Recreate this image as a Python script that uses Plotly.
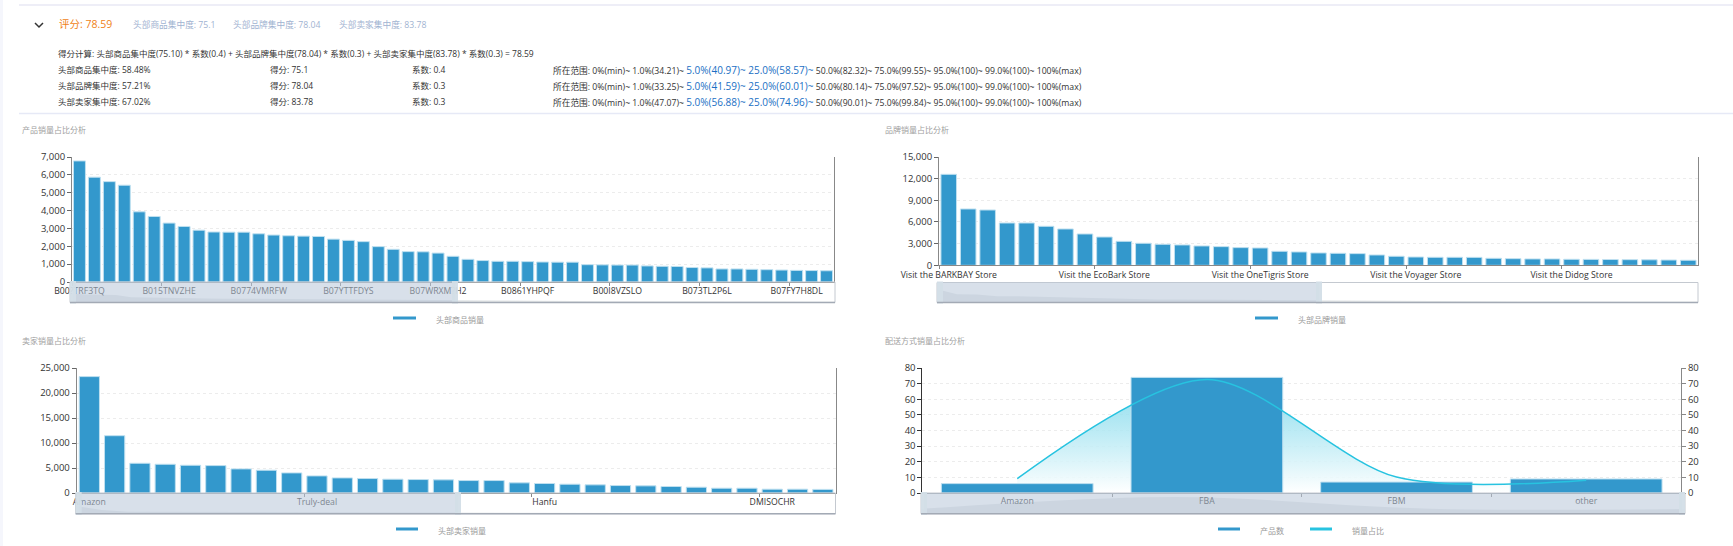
import plotly.graph_objects as go

W = 1733
H = 546
FONT = "Open Sans, Noto Sans CJK SC, sans-serif"

# header text
score_text = "评分: 78.59"
sub_scores = ["头部商品集中度: 75.1", "头部品牌集中度: 78.04", "头部卖家集中度: 83.78"]
formula_text = "得分计算: 头部商品集中度(75.10) * 系数(0.4) + 头部品牌集中度(78.04) * 系数(0.3) + 头部卖家集中度(83.78) * 系数(0.3) = 78.59"
row_names = ["头部商品集中度: 58.48%", "头部品牌集中度: 57.21%", "头部卖家集中度: 67.02%"]
row_scores = ["得分: 75.1", "得分: 78.04", "得分: 83.78"]
row_coefs = ["系数: 0.4", "系数: 0.3", "系数: 0.3"]
p1 = ["34.21", "33.25", "47.07"]
p5 = ["40.97", "41.59", "56.88"]
p25 = ["58.57", "60.01", "74.96"]
p50 = ["82.32", "80.14", "90.01"]
p75 = ["99.55", "97.52", "99.84"]

# product chart
product_labels = ["B00?TRF3TQ", "B015TNVZHE", "B0774VMRFW", "B07YTTFDYS", "B07WRXM?H2",
                  "B0861YHPQF", "B00I8VZSLO", "B073TL2P6L", "B07FY7H8DL"]
product_sales = [6780, 5870, 5620, 5420, 3930, 3670, 3300, 3110, 2900, 2800, 2790, 2790, 2700,
                 2630, 2590, 2570, 2550, 2400, 2330, 2260, 1980, 1830, 1700, 1690, 1620, 1440,
                 1270, 1200, 1160, 1160, 1140, 1120, 1110, 1110, 970, 960, 950, 950, 900, 880,
                 870, 810, 790, 730, 730, 710, 690, 670, 650, 640, 630]

# brand chart
brand_labels = ["Visit the BARKBAY Store", "Visit the EcoBark Store", "Visit the OneTigris Store",
                "Visit the Voyager Store", "Visit the Didog Store"]
brand_sales = [12600, 7800, 7660, 5860, 5860, 5400, 5030, 4340, 3920, 3320, 3050, 2910, 2820, 2680,
               2585, 2450, 2400, 1940, 1850, 1710, 1660, 1615, 1430, 1250, 1150, 1110, 1110, 1100,
               970, 920, 880, 880, 830, 820, 800, 780, 760, 730, 700]

# seller chart
seller_labels = ["Amazon", "Truly-deal", "Hanfu", "DMISOCHR"]
seller_sales = [23280, 11460, 5950, 5750, 5550, 5480, 4820, 4550, 4020, 3420, 3020, 2890, 2760,
                2690, 2630, 2490, 2490, 2030, 1900, 1760, 1630, 1490, 1430, 1300, 1160, 960, 960,
                760, 760, 720]

# delivery chart
delivery_types = ["Amazon", "FBA", "FBM", "other"]
delivery_products = [6, 74, 7, 9]
delivery_share = [9.2, 72.7, 10.2, 8.2]

BAR = "#3398cc"
BAR_EDGE = "#bfe0f0"
LINE = "#27c3e0"
GRID = "#ececec"


def fx(x):
    return x / W


def fy(y):
    return 1 - y / H


fig = go.Figure()
layout = {}
shapes = []
notes = []


def text(x, y, s, size=8.5, color="#333333", anchor="left"):
    # annotations carry about 2.5px of padding on the left
    notes.append(dict(x=fx(x - 2.5), y=fy(y), xref="paper", yref="paper", text=s, showarrow=False,
                      xanchor=anchor, yanchor="middle", align="left",
                      font=dict(family=FONT, size=size, color=color)))


def rect(x0, y0, x1, y1, fill, line=None):
    shapes.append(dict(type="rect", xref="paper", yref="paper", x0=fx(x0), x1=fx(x1), y0=fy(y0), y1=fy(y1),
                       fillcolor=fill, line=dict(width=1 if line else 0, color=line or fill), layer="above"))


def hline(x0, x1, y, color, width=1):
    shapes.append(dict(type="line", xref="paper", yref="paper", x0=fx(x0), x1=fx(x1), y0=fy(y), y1=fy(y),
                       line=dict(color=color, width=width), layer="above"))


def slider(num, left, right, sel_end, top, bottom, values, span, smooth=False):
    # fake data zoom: thumbnail area from the series, then the window over it
    x_name, y_name = f"xaxis{num}", f"yaxis{num}"
    layout[x_name] = dict(domain=[fx(left), fx(right)], range=[0, len(values) - 1], visible=False,
                          anchor=f"y{num}", fixedrange=True)
    layout[y_name] = dict(domain=[fy(bottom), fy(top)], range=[0, span], visible=False,
                          anchor=f"x{num}", fixedrange=True)
    fig.add_trace(go.Scatter(x=list(range(len(values))), y=values, xaxis=f"x{num}", yaxis=f"y{num}",
                             mode="lines", fill="tozeroy", fillcolor="rgba(47,69,84,0.13)",
                             line=dict(width=0, shape="spline" if smooth else "linear"),
                             showlegend=False, hoverinfo="skip"))
    rect(left, top, right, bottom, "rgba(0,0,0,0)", "#c4c9d0")
    rect(left + 3, top, sel_end - 3, bottom, "rgba(184,199,217,0.55)")
    rect(left, top - 1, left + 6, bottom + 1, "rgba(211,222,231,0.95)")
    rect(sel_end - 6, top - 1, sel_end, bottom + 1, "rgba(211,222,231,0.95)")
    hline(left, right, bottom, "#a3aab5", 1.5)


def bar_chart(num, title, title_x, left, right, top, bottom, title_y, values, labels, step, y_max, y_step):
    x_name, y_name = f"xaxis{num}", f"yaxis{num}"
    ids = list(range(len(values)))
    layout[x_name] = dict(domain=[fx(left), fx(right)], range=[-0.5, len(values) - 0.5], anchor=f"y{num}",
                          tickvals=ids[::step], ticktext=labels, ticks="", showgrid=False, showline=True,
                          linecolor="#888888", linewidth=1, ticklabelstandoff=1,
                          tickfont=dict(family=FONT, size=8.7, color="#333333"),
                          minor=dict(tickvals=[i - 0.5 for i in ids[::step]], ticks="outside", ticklen=3,
                                     tickcolor="#888888", showgrid=False))
    layout[y_name] = dict(domain=[fy(bottom), fy(top)], range=[0, y_max], anchor=f"x{num}", dtick=y_step,
                          tickformat=",", ticks="outside", ticklen=4, tickcolor="#666666",
                          showline=True, linecolor="#888888", linewidth=1, mirror=True,
                          gridcolor=GRID, griddash="dot", gridwidth=1, zeroline=False,
                          tickfont=dict(family=FONT, size=9.5, color="#333333"))
    fig.add_trace(go.Bar(x=ids, y=values, xaxis=f"x{num}", yaxis=f"y{num}", width=0.8, showlegend=False,
                         marker=dict(color=BAR, line=dict(color=BAR_EDGE, width=1))))
    text(title_x, title_y, title, size=8, color="#a0a0a0")


# page furniture
rect(0, 0, 3, H, "#f5f6fc")
hline(19, W, 5, "#e8e9f4", 1.5)
hline(19, W, 113.5, "#e6e9f6", 1.5)
shapes.append(dict(type="path", xref="paper", yref="paper", layer="above", line=dict(color="#333333", width=1.5),
                   path=f"M {fx(35)} {fy(23)} L {fx(39)} {fy(27)} L {fx(43)} {fy(23)}"))

text(59, 24, score_text, size=10.5, color="#f07f17")
for x, s in zip([133, 233, 339], sub_scores):
    text(x, 25, s, size=8.7, color="#9fb3d1")
text(58, 53.5, formula_text)

for i, y in enumerate([69.5, 85.5, 101.5]):
    text(58, y, row_names[i])
    text(270, y, row_scores[i])
    text(412, y, row_coefs[i])
    text(553, y, f"所在范围: 0%(min)~ 1.0%({p1[i]})~ "
                 f"<span style='color:#1a6fc4;font-size:10px'>5.0%({p5[i]})~ 25.0%({p25[i]})~</span> "
                 f"50.0%({p50[i]})~ 75.0%({p75[i]})~ 95.0%(100)~ 99.0%(100)~ 100%(max)", size=8.7)

# product / brand / seller charts
bar_chart(1, "产品销量占比分析", 22, 72, 834, 157, 282, 129, product_sales, product_labels, 6, 7000, 1000)
slider(11, 70, 835, 458, 282, 302.5, product_sales, 15000)
bar_chart(2, "品牌销量占比分析", 885, 939, 1698, 157, 265.3, 129, brand_sales, brand_labels, 8, 15000, 3000)
slider(12, 937, 1698, 1322, 282.5, 302.5, brand_sales, 19000)
bar_chart(3, "卖家销量占比分析", 22, 76.7, 835.5, 368, 493, 340, seller_sales, seller_labels, 9, 25000, 5000)
slider(13, 75.7, 835.5, 461, 493, 513.7, seller_sales, 63000)

# delivery chart: fill under the bars, line over them
cat_ids = list(range(len(delivery_types)))
layout["xaxis4"] = dict(domain=[fx(922.4), fx(1681)], range=[-0.5, 3.5], anchor="y4", tickvals=cat_ids,
                        ticktext=delivery_types, ticks="", showgrid=False, showline=True, linecolor="#888888",
                        tickfont=dict(family=FONT, size=8.7, color="#333333"),
                        minor=dict(tickvals=[i + 0.5 for i in cat_ids[:-1]], ticks="outside", ticklen=3,
                                   tickcolor="#888888", showgrid=False))
layout["yaxis4"] = dict(domain=[fy(493), fy(368)], range=[0, 80], anchor="x4", dtick=10, ticks="outside", ticklen=4,
                        tickcolor="#333333", showline=True, linecolor="#333333", gridcolor=GRID, griddash="dot",
                        zeroline=False, tickfont=dict(family=FONT, size=9.5, color="#333333"))
layout["yaxis5"] = dict(overlaying="y4", range=[0, 80], visible=False, anchor="x4")
layout["yaxis6"] = dict(overlaying="y4", side="right", range=[0, 80], anchor="x4", dtick=10, ticks="outside", ticklen=4,
                        tickcolor="#888888", showline=True, linecolor="#888888", showgrid=False, zeroline=False,
                        tickfont=dict(family=FONT, size=9.5, color="#333333"))
fig.add_trace(go.Scatter(x=cat_ids, y=delivery_share, xaxis="x4", yaxis="y4", mode="lines", fill="tozeroy",
                         line=dict(width=0, shape="spline", smoothing=0.85),
                         fillgradient=dict(type="vertical",
                                           colorscale=[[0, "rgba(255,255,255,0.9)"], [1, "rgba(110,212,233,0.8)"]]),
                         showlegend=False, hoverinfo="skip"))
fig.add_trace(go.Bar(x=cat_ids, y=delivery_products, xaxis="x4", yaxis="y5", width=0.8, showlegend=False,
                     marker=dict(color=BAR, line=dict(color=BAR_EDGE, width=1))))
fig.add_trace(go.Scatter(x=cat_ids, y=delivery_share, xaxis="x4", yaxis="y6", mode="lines",
                         line=dict(color=LINE, width=1.5, shape="spline", smoothing=0.85), showlegend=False))
text(885, 340, "配送方式销量占比分析", size=8, color="#a0a0a0")
slider(14, 921, 1685, 1685, 493, 513.7, [v + 17 for v in delivery_share], 112, smooth=True)

# legends
for x0, x1, tx, y, s, c in [(393, 416, 436, 318, "头部商品销量", BAR), (1255, 1278, 1298, 318, "头部品牌销量", BAR),
                            (396, 418, 438, 529, "头部卖家销量", BAR), (1218, 1240, 1260, 529, "产品数", BAR),
                            (1310, 1332, 1352, 529, "销量占比", LINE)]:
    hline(x0, x1, y, c, 3)
    text(tx, y + 1, s, size=8, color="#999999")

fig.update_layout(width=W, height=H, margin=dict(l=0, r=0, t=0, b=0, autoexpand=False), paper_bgcolor="white",
                  plot_bgcolor="white", barmode="overlay", shapes=shapes, annotations=notes, showlegend=False,
                  **layout)

fig.write_html("out.html", config={"displayModeBar": False}, post_script="document.body.style.margin='0';")
